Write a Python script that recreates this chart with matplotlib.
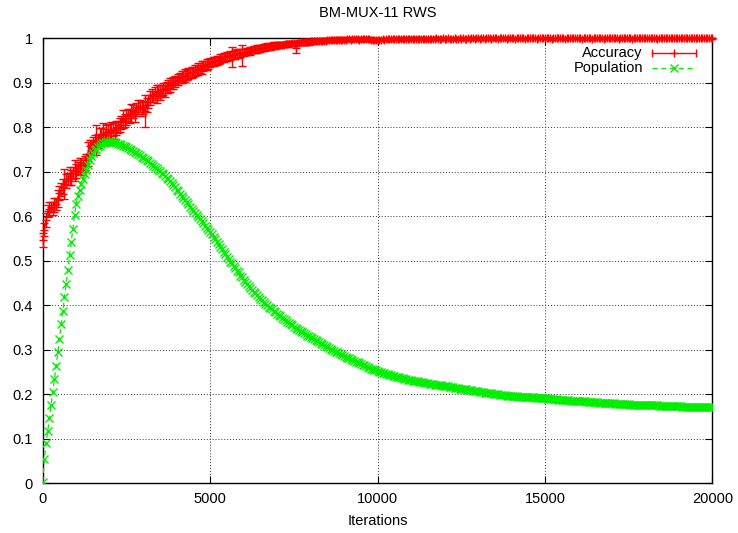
import numpy as np
import matplotlib
matplotlib.use('Agg')
import matplotlib.pyplot as plt

plt.rcParams['font.family'] = ['Liberation Sans', 'DejaVu Sans']
plt.rcParams['font.size'] = 10.5

step = 50

accuracy = [
    0.547, 0.570, 0.592, 0.612, 0.617, 0.621, 0.618, 0.625, 0.628, 0.640, 0.652, 0.660, 0.667, 0.672, 0.679, 0.684, 0.690, 0.687, 0.697, 0.703,
    0.702, 0.708, 0.712, 0.715, 0.713, 0.720, 0.726, 0.740, 0.757, 0.760, 0.763, 0.768, 0.772, 0.770, 0.778, 0.782, 0.786, 0.783, 0.790, 0.788,
    0.792, 0.789, 0.795, 0.793, 0.798, 0.801, 0.806, 0.811, 0.818, 0.815, 0.822, 0.828, 0.825, 0.832, 0.836, 0.829, 0.840, 0.845, 0.848, 0.842,
    0.845, 0.836, 0.850, 0.858, 0.866, 0.872, 0.870, 0.876, 0.874, 0.880, 0.878, 0.883, 0.886, 0.884, 0.889, 0.892, 0.895, 0.898, 0.899, 0.903,
    0.905, 0.907, 0.911, 0.913, 0.915, 0.916, 0.918, 0.921, 0.922, 0.923, 0.925, 0.928, 0.929, 0.931, 0.933, 0.934, 0.937, 0.939, 0.941, 0.943,
    0.945, 0.946, 0.948, 0.950, 0.951, 0.952, 0.954, 0.956, 0.957, 0.958, 0.959, 0.960, 0.962, 0.958, 0.963, 0.964, 0.966, 0.965, 0.967, 0.962,
    0.968, 0.969, 0.970, 0.971, 0.972, 0.973, 0.974, 0.975, 0.976, 0.977, 0.978, 0.979, 0.979, 0.980, 0.981, 0.981, 0.982, 0.983, 0.983, 0.984,
    0.984, 0.985, 0.985, 0.986, 0.986, 0.987, 0.987, 0.988, 0.988, 0.989, 0.989, 0.979, 0.990, 0.990, 0.991, 0.991, 0.991, 0.992, 0.992, 0.992,
    0.993, 0.993, 0.993, 0.994, 0.994, 0.994, 0.995, 0.995, 0.995, 0.995, 0.996, 0.996, 0.996, 0.996, 0.996, 0.997, 0.997, 0.997, 0.997, 0.997,
    0.997, 0.997, 0.998, 0.998, 0.997, 0.998, 0.998, 0.998, 0.998, 0.997, 0.998, 0.998, 0.998, 0.999, 0.998, 0.998, 0.997, 0.996, 0.996, 0.997,
    0.996, 0.997, 0.997, 0.998, 0.997, 0.998, 0.998, 0.999, 0.998, 0.998, 0.999, 0.998, 0.999, 0.999, 0.998, 0.999, 0.999, 0.998, 0.999, 0.999,
    0.999, 0.998, 0.999, 0.999, 0.999, 0.998, 0.999, 0.999, 0.999, 0.999, 0.998, 0.999, 0.999, 0.999, 0.999, 1.000, 0.999, 0.999, 0.999, 1.000,
    0.999, 0.999, 1.000, 0.999, 0.999, 0.999, 1.000, 0.999, 0.999, 1.000, 0.999, 1.000, 0.999, 0.999, 1.000, 0.999, 1.000, 1.000, 0.999, 1.000,
    1.000, 0.999, 1.000, 1.000, 0.999, 1.000, 1.000, 1.000, 0.999, 1.000, 1.000, 1.000, 0.999, 1.000, 1.000, 1.000, 1.000, 0.999, 1.000, 1.000,
    1.000, 1.000, 0.999, 1.000, 1.000, 1.000, 1.000, 1.000, 0.999, 1.000, 1.000, 1.000, 1.000, 1.000, 1.000, 0.999, 1.000, 1.000, 1.000, 1.000,
    1.000, 1.000, 1.000, 1.000, 0.999, 1.000, 1.000, 1.000, 1.000, 1.000, 1.000, 1.000, 0.999, 1.000, 1.000, 1.000, 1.000, 1.000, 1.000, 1.000,
    1.000, 1.000, 0.999, 1.000, 1.000, 1.000, 1.000, 1.000, 0.999, 1.000, 1.000, 1.000, 1.000, 1.000, 1.000, 0.999, 1.000, 1.000, 1.000, 1.000,
    1.000, 1.000, 1.000, 1.000, 0.999, 1.000, 1.000, 1.000, 1.000, 1.000, 1.000, 1.000, 0.999, 1.000, 1.000, 1.000, 1.000, 1.000, 1.000, 1.000,
    1.000, 1.000, 1.000, 1.000, 1.000, 1.000, 1.000, 0.999, 1.000, 1.000, 1.000, 1.000, 1.000, 1.000, 1.000, 1.000, 1.000, 1.000, 1.000, 1.000,
    1.000, 1.000, 1.000, 1.000, 1.000, 1.000, 1.000, 1.000, 1.000, 1.000, 1.000, 1.000, 1.000, 1.000, 1.000, 1.000, 1.000, 1.000, 1.000, 1.000,
    1.000,
]

accuracy_err = [
    0.016, 0.014, 0.016, 0.013, 0.016, 0.012, 0.014, 0.016, 0.013, 0.020, 0.016, 0.014, 0.016, 0.034, 0.016, 0.014, 0.020, 0.016, 0.014, 0.024,
    0.016, 0.014, 0.020, 0.016, 0.014, 0.016, 0.014, 0.026, 0.014, 0.012, 0.016, 0.014, 0.034, 0.016, 0.020, 0.016, 0.024, 0.014, 0.016, 0.020,
    0.016, 0.024, 0.014, 0.020, 0.016, 0.014, 0.016, 0.014, 0.020, 0.014, 0.016, 0.014, 0.016, 0.020, 0.014, 0.016, 0.014, 0.016, 0.014, 0.016,
    0.014, 0.036, 0.016, 0.014, 0.016, 0.014, 0.012, 0.014, 0.020, 0.014, 0.016, 0.012, 0.014, 0.016, 0.012, 0.014, 0.016, 0.012, 0.014, 0.012,
    0.011, 0.013, 0.011, 0.013, 0.011, 0.015, 0.011, 0.013, 0.011, 0.013, 0.011, 0.013, 0.011, 0.013, 0.011, 0.015, 0.011, 0.011, 0.013, 0.011,
    0.010, 0.009, 0.010, 0.009, 0.010, 0.009, 0.010, 0.009, 0.010, 0.009, 0.010, 0.009, 0.010, 0.022, 0.009, 0.010, 0.009, 0.010, 0.009, 0.024,
    0.008, 0.007, 0.008, 0.007, 0.009, 0.007, 0.008, 0.007, 0.008, 0.007, 0.008, 0.007, 0.008, 0.007, 0.008, 0.007, 0.008, 0.007, 0.008, 0.007,
    0.006, 0.005, 0.006, 0.005, 0.006, 0.005, 0.006, 0.005, 0.006, 0.005, 0.006, 0.013, 0.005, 0.006, 0.005, 0.006, 0.005, 0.006, 0.005, 0.006,
    0.005, 0.004, 0.005, 0.004, 0.005, 0.004, 0.005, 0.004, 0.005, 0.004, 0.005, 0.004, 0.005, 0.004, 0.005, 0.004, 0.005, 0.004, 0.005, 0.004,
    0.004, 0.003, 0.004, 0.003, 0.004, 0.003, 0.004, 0.003, 0.004, 0.003, 0.004, 0.003, 0.004, 0.003, 0.004, 0.005, 0.004, 0.005, 0.004, 0.003,
    0.003, 0.002, 0.003, 0.002, 0.003, 0.002, 0.003, 0.002, 0.003, 0.002, 0.003, 0.002, 0.003, 0.002, 0.003, 0.002, 0.003, 0.002, 0.003, 0.002,
    0.003, 0.002, 0.003, 0.002, 0.003, 0.002, 0.003, 0.002, 0.003, 0.002, 0.003, 0.002, 0.003, 0.002, 0.003, 0.002, 0.003, 0.002, 0.003, 0.002,
    0.002, 0.002, 0.002, 0.002, 0.002, 0.002, 0.002, 0.002, 0.002, 0.002, 0.002, 0.002, 0.002, 0.002, 0.002, 0.002, 0.002, 0.002, 0.002, 0.002,
    0.002, 0.002, 0.002, 0.002, 0.002, 0.002, 0.002, 0.002, 0.002, 0.002, 0.002, 0.002, 0.002, 0.002, 0.002, 0.002, 0.002, 0.002, 0.002, 0.002,
    0.002, 0.001, 0.002, 0.001, 0.002, 0.001, 0.002, 0.001, 0.002, 0.001, 0.002, 0.001, 0.002, 0.001, 0.002, 0.001, 0.002, 0.001, 0.002, 0.001,
    0.002, 0.001, 0.002, 0.001, 0.002, 0.001, 0.002, 0.001, 0.002, 0.001, 0.002, 0.001, 0.002, 0.001, 0.002, 0.001, 0.002, 0.001, 0.002, 0.001,
    0.002, 0.001, 0.002, 0.001, 0.002, 0.001, 0.002, 0.001, 0.002, 0.001, 0.002, 0.001, 0.002, 0.001, 0.002, 0.001, 0.002, 0.001, 0.002, 0.001,
    0.002, 0.001, 0.002, 0.001, 0.002, 0.001, 0.002, 0.001, 0.002, 0.001, 0.002, 0.001, 0.002, 0.001, 0.002, 0.001, 0.002, 0.001, 0.002, 0.001,
    0.002, 0.001, 0.002, 0.001, 0.002, 0.001, 0.002, 0.001, 0.002, 0.001, 0.002, 0.001, 0.002, 0.001, 0.002, 0.001, 0.002, 0.001, 0.002, 0.001,
    0.002, 0.001, 0.002, 0.001, 0.002, 0.001, 0.002, 0.001, 0.002, 0.001, 0.002, 0.001, 0.002, 0.001, 0.002, 0.001, 0.002, 0.001, 0.002, 0.001,
    0.001,
]

population = [
    0.004, 0.054, 0.090, 0.118, 0.147, 0.176, 0.206, 0.235, 0.264, 0.294, 0.325, 0.357, 0.387, 0.419, 0.448, 0.480, 0.512, 0.543, 0.571, 0.603,
    0.628, 0.646, 0.660, 0.673, 0.684, 0.694, 0.705, 0.716, 0.727, 0.735, 0.742, 0.748, 0.752, 0.756, 0.759, 0.762, 0.764, 0.765, 0.766, 0.767,
    0.767, 0.768, 0.766, 0.766, 0.765, 0.763, 0.762, 0.760, 0.759, 0.757, 0.755, 0.754, 0.751, 0.749, 0.747, 0.744, 0.742, 0.739, 0.737, 0.734,
    0.732, 0.729, 0.727, 0.724, 0.720, 0.718, 0.714, 0.711, 0.708, 0.705, 0.702, 0.698, 0.695, 0.691, 0.687, 0.683, 0.679, 0.674, 0.670, 0.665,
    0.660, 0.656, 0.651, 0.646, 0.641, 0.637, 0.632, 0.627, 0.622, 0.617, 0.612, 0.607, 0.603, 0.598, 0.593, 0.589, 0.584, 0.579, 0.574, 0.570,
    0.565, 0.560, 0.553, 0.549, 0.542, 0.538, 0.531, 0.527, 0.520, 0.516, 0.509, 0.505, 0.498, 0.495, 0.488, 0.484, 0.477, 0.474, 0.467, 0.464,
    0.458, 0.453, 0.449, 0.444, 0.440, 0.435, 0.431, 0.427, 0.423, 0.419, 0.415, 0.411, 0.407, 0.404, 0.400, 0.397, 0.394, 0.391, 0.387, 0.384,
    0.381, 0.378, 0.375, 0.372, 0.369, 0.366, 0.363, 0.360, 0.357, 0.355, 0.352, 0.349, 0.347, 0.344, 0.342, 0.340, 0.337, 0.335, 0.332, 0.330,
    0.328, 0.326, 0.324, 0.321, 0.319, 0.317, 0.315, 0.313, 0.310, 0.308, 0.306, 0.304, 0.302, 0.300, 0.298, 0.296, 0.294, 0.292, 0.290, 0.288,
    0.286, 0.284, 0.282, 0.281, 0.279, 0.277, 0.275, 0.273, 0.272, 0.270, 0.268, 0.266, 0.265, 0.263, 0.262, 0.260, 0.258, 0.257, 0.255, 0.254,
    0.253, 0.251, 0.250, 0.249, 0.247, 0.246, 0.245, 0.244, 0.243, 0.242, 0.241, 0.240, 0.239, 0.238, 0.237, 0.236, 0.235, 0.234, 0.233, 0.232,
    0.232, 0.231, 0.231, 0.230, 0.229, 0.228, 0.228, 0.227, 0.226, 0.226, 0.225, 0.224, 0.224, 0.223, 0.222, 0.222, 0.221, 0.220, 0.220, 0.219,
    0.219, 0.218, 0.218, 0.217, 0.216, 0.216, 0.215, 0.214, 0.214, 0.213, 0.213, 0.212, 0.211, 0.211, 0.210, 0.209, 0.209, 0.208, 0.208, 0.207,
    0.207, 0.206, 0.205, 0.205, 0.204, 0.204, 0.203, 0.202, 0.202, 0.201, 0.201, 0.200, 0.200, 0.199, 0.199, 0.198, 0.198, 0.197, 0.197, 0.197,
    0.197, 0.196, 0.196, 0.196, 0.195, 0.195, 0.195, 0.194, 0.194, 0.194, 0.194, 0.193, 0.193, 0.193, 0.192, 0.192, 0.192, 0.191, 0.191, 0.191,
    0.191, 0.191, 0.190, 0.190, 0.190, 0.189, 0.189, 0.189, 0.188, 0.188, 0.188, 0.188, 0.187, 0.187, 0.187, 0.186, 0.186, 0.186, 0.185, 0.185,
    0.185, 0.185, 0.184, 0.184, 0.184, 0.183, 0.183, 0.183, 0.182, 0.182, 0.182, 0.182, 0.181, 0.181, 0.181, 0.181, 0.180, 0.180, 0.180, 0.180,
    0.180, 0.180, 0.179, 0.179, 0.179, 0.179, 0.178, 0.178, 0.178, 0.178, 0.178, 0.177, 0.177, 0.177, 0.177, 0.176, 0.176, 0.176, 0.176, 0.176,
    0.176, 0.176, 0.175, 0.175, 0.175, 0.175, 0.175, 0.175, 0.174, 0.174, 0.174, 0.174, 0.174, 0.174, 0.173, 0.173, 0.173, 0.173, 0.173, 0.173,
    0.173, 0.173, 0.172, 0.172, 0.172, 0.172, 0.172, 0.172, 0.172, 0.172, 0.172, 0.171, 0.171, 0.171, 0.171, 0.171, 0.171, 0.171, 0.171, 0.171,
    0.171,
]

xticks = [0, 5000, 10000, 15000, 20000]
yticks = [0, 0.1, 0.2, 0.3, 0.4, 0.5, 0.6, 0.7, 0.8, 0.9, 1]
ytick_labels = ['0', '0.1', '0.2', '0.3', '0.4', '0.5', '0.6', '0.7', '0.8', '0.9', '1']

iters_acc = np.arange(len(accuracy)) * step
iters_pop = np.arange(len(population)) * step

red = '#ff0000'
green = '#00ee00'

fig = plt.figure(figsize=(7.38, 5.33), dpi=100)
ax = fig.add_axes([0.0579, 0.0932, 0.9075, 0.8349])

eb = ax.errorbar(iters_acc, accuracy, yerr=accuracy_err, color=red, lw=1.0,
                 marker='+', ms=6, mew=1.0, capsize=2.8, capthick=1.0,
                 elinewidth=1.0, zorder=3)
eb[0].set_clip_on(False)
for a in eb[1]:
    a.set_clip_on(False)
for a in eb[2]:
    a.set_clip_on(False)

ax.plot(iters_pop, population, color=green, lw=0.9, ls=(0, (4, 3)),
        marker='x', ms=5.5, mew=1.0, zorder=4)

ax.set_xlim(0, 20000)
ax.set_ylim(0, 1)
ax.set_xticks(xticks)
ax.set_yticks(yticks)
ax.set_yticklabels(ytick_labels)
ax.tick_params(direction='in', top=True, right=True, length=5, width=0.8,
               labelsize=10.5)
ax.tick_params(axis='y', pad=7)
ax.tick_params(axis='x', pad=6)
for s in ax.spines.values():
    s.set_linewidth(1.0)

ax.grid(True, color='#333333', ls=(0, (1, 2)), lw=0.7)
ax.set_axisbelow(True)

ax.set_xlabel('Iterations', fontsize=10.5, labelpad=6)
ax.set_title('BM-MUX-11 RWS', fontsize=10.5, pad=15)

# gnuplot style key, top right
tr = ax.transAxes
ax.text(0.896, 0.968, 'Accuracy', transform=tr, ha='right', va='center', fontsize=10.5)
ax.text(0.896, 0.934, 'Population', transform=tr, ha='right', va='center', fontsize=10.5)
ax.plot([0.909, 0.942, 0.975], [0.968] * 3, transform=tr, color=red, lw=1.0,
        marker='+', ms=6, mew=1.0, markevery=[1])
ax.plot([0.909, 0.975], [0.968] * 2, transform=tr, color=red, ls='none',
        marker='|', ms=6, mew=1.0)
ax.plot([0.909, 0.942, 0.975], [0.934] * 3, transform=tr, color=green, lw=0.9,
        ls=(0, (4, 3)), marker='x', ms=5.5, mew=1.0, markevery=[1])

fig.savefig('out.png', dpi=100)
